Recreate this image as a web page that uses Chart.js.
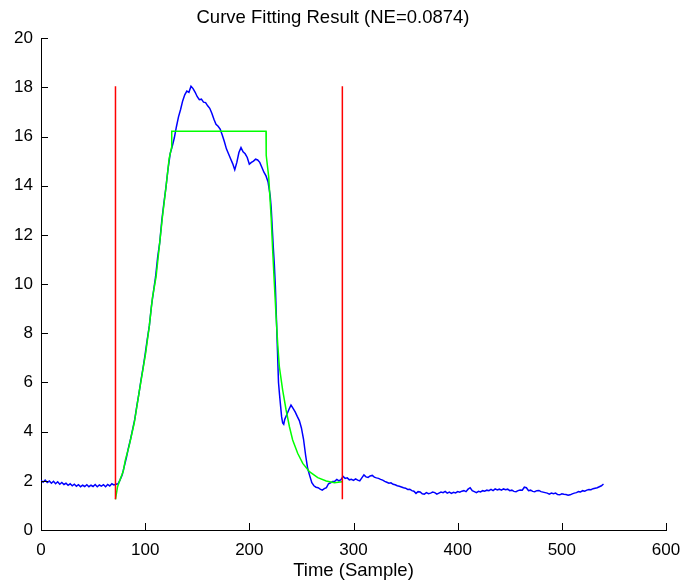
<!DOCTYPE html>
<html>
<head>
<meta charset="utf-8">
<script src="https://cdn.jsdelivr.net/npm/chart.js@4.4.1/dist/chart.umd.min.js"></script>
<style>
  html, body { margin: 0; padding: 0; background: #fff; }
  #wrap { width: 682px; height: 582px; }
</style>
</head>
<body>
<div id="wrap"><canvas id="c" width="682" height="582"></canvas></div>
<script>
// ---- data ----
const chartTitle = 'Curve Fitting Result (NE=0.0874)';
const xAxisTitle = 'Time (Sample)';
const xTickValues = [0, 100, 200, 300, 400, 500, 600];
const yTickValues = [0, 2, 4, 6, 8, 10, 12, 14, 16, 18, 20];

const blueSamples = [
  0,2,4,6,8,10,12,14,16,18,20,22,24,26,28,30,32,34,36,38,40,42,44,46,48,50,52,54,56,58,60,62,64,66,68,70,72,74,
  76,78,80,82,84,86,88,90,92,94,96,98,100,102,104,106,108,110,112,114,116,118,120,122,124,126,128,130,132,134,136,138,
  140,142,144,146,148,150,152,154,156,158,160,162,164,166,168,170,172,174,176,178,180,182,184,186,188,190,192,194,196,198,
  200,202,204,206,208,210,212,214,216,218,220,221,222,223,224,225,226,227,228,229,230,231,232,233,234,236,238,240,242,244,
  246,248,250,252,254,256,258,260,262,264,266,268,270,272,274,276,278,280,282,284,286,288,290,292,294,296,298,300,302,304,
  306,308,310,312,314,316,318,320,322,324,326,328,330,332,334,336,338,340,342,344,346,348,350,352,354,356,358,360,362,364,
  366,368,370,372,374,376,378,380,382,384,386,388,390,392,394,396,398,400,402,404,406,408,410,412,414,416,418,420,422,424,
  426,428,430,432,434,436,438,440,442,444,446,448,450,452,454,456,458,460,462,464,466,468,470,472,474,476,478,480,482,484,
  486,488,490,492,494,496,498,500,502,504,506,508,510,512,514,516,518,520,522,524,526,528,530,532,534,536,538,540
];
const blueValues = [
  2.02,1.94,2.03,1.93,1.99,1.90,1.98,1.88,1.96,1.86,1.93,1.85,1.90,1.82,1.88,1.80,1.86,1.78,1.84,1.76,1.82,1.77,1.84,1.76,1.82,1.77,1.85,1.76,1.83,1.78,1.84,1.76,1.85,1.79,1.88,1.83,1.86,1.88,
  2.05,2.25,2.60,2.95,3.35,3.70,4.10,4.50,5.05,5.55,6.10,6.60,7.15,7.75,8.30,9.10,9.70,10.30,11.10,11.70,12.60,13.30,13.95,14.70,15.30,15.60,15.95,16.40,16.80,17.10,17.45,17.70,
  17.85,17.80,18.05,17.95,17.80,17.62,17.50,17.52,17.40,17.38,17.25,17.15,16.95,16.70,16.50,16.42,16.30,16.06,15.80,15.50,15.30,15.10,14.90,14.65,14.95,15.35,15.55,15.38,15.30,15.15,
  14.88,14.95,15.00,15.08,15.05,14.95,14.75,14.55,14.40,14.15,13.60,13.10,12.30,11.50,10.80,9.90,8.60,7.30,6.00,5.50,5.05,4.60,4.35,4.30,4.50,4.70,4.90,5.08,4.95,4.80,
  4.62,4.45,4.15,3.70,3.05,2.50,2.20,1.92,1.80,1.74,1.72,1.66,1.62,1.68,1.72,1.88,1.92,1.97,1.98,2.06,2.00,2.05,2.18,2.10,2.12,2.04,2.06,2.02,2.08,2.03,
  2.00,2.12,2.24,2.16,2.14,2.20,2.22,2.15,2.12,2.10,2.06,2.03,1.98,1.94,1.90,1.92,1.86,1.84,1.80,1.78,1.75,1.72,1.70,1.65,1.66,1.60,1.58,1.49,1.56,1.55,
  1.47,1.46,1.52,1.48,1.50,1.54,1.52,1.46,1.50,1.54,1.52,1.57,1.50,1.54,1.49,1.53,1.51,1.56,1.54,1.58,1.60,1.56,1.66,1.72,1.60,1.56,1.52,1.57,1.55,1.60,
  1.58,1.62,1.60,1.65,1.60,1.67,1.63,1.66,1.62,1.67,1.64,1.66,1.60,1.62,1.57,1.56,1.60,1.63,1.62,1.74,1.72,1.60,1.62,1.57,1.56,1.60,1.61,1.56,1.54,1.52,
  1.50,1.46,1.50,1.48,1.50,1.44,1.43,1.47,1.45,1.44,1.41,1.43,1.47,1.50,1.52,1.56,1.55,1.60,1.58,1.62,1.65,1.64,1.68,1.70,1.72,1.76,1.80,1.87
];

const fitSamples = [71.5,73.5,76,79,81,84.5,89.5,94,100.5,104,107,110.5,113.5,116.5,120,123,125.3,125.5,216,216.2,218.6,220.9,222.4,224,225.7,227.2,228.8,232,235.3,238.5,241.6,246.4,251.3,257.7,265.7,273.8,281.7,289.1];
const fitValues  = [1.25,1.76,2.05,2.40,2.85,3.40,4.35,5.55,7.20,8.30,9.45,10.30,11.50,12.70,13.95,15.10,15.55,16.22,16.22,15.24,14.36,12.74,11.38,10.03,8.67,7.59,6.64,5.69,4.88,4.20,3.66,3.12,2.71,2.37,2.13,1.99,1.92,1.96];

const markerSamples = [71.5, 289.3];
const markerRange = [1.25, 18.05];

// ---- build datasets ----
const toPts = (xs, ys) => xs.map((x, i) => ({ x: x, y: ys[i] }));
const datasets = [];
markerSamples.forEach(s => {
  datasets.push({
    data: markerRange.map(v => ({ x: s, y: v })),
    borderColor: '#ff0000', borderWidth: 1.5, pointRadius: 0, order: 0
  });
});
datasets.push({ data: toPts(fitSamples, fitValues), borderColor: '#00ff00', borderWidth: 1.5, pointRadius: 0, order: 1 });
datasets.push({ data: toPts(blueSamples, blueValues), borderColor: '#0000ff', borderWidth: 1.5, pointRadius: 0, order: 2 });

const TICK_LEN = 7;
const inwardTicks = {
  id: 'inwardTicks',
  afterDraw(chart) {
    const { ctx, chartArea: a, scales: { x, y } } = chart;
    ctx.save();
    ctx.strokeStyle = '#000';
    ctx.lineWidth = 1;
    ctx.beginPath();
    x.ticks.forEach(t => {
      const px = Math.round(x.getPixelForValue(t.value)) + 0.5;
      ctx.moveTo(px, a.bottom); ctx.lineTo(px, a.bottom - TICK_LEN);
    });
    y.ticks.forEach(t => {
      const py = Math.round(y.getPixelForValue(t.value)) + 0.5;
      ctx.moveTo(a.left, py); ctx.lineTo(a.left + TICK_LEN, py);
    });
    ctx.stroke();
    ctx.restore();
  }
};

const FONT = 'Arial, "Liberation Sans", Helvetica, sans-serif';
new Chart(document.getElementById('c'), {
  type: 'line',
  data: { datasets },
  options: {
    responsive: false,
    devicePixelRatio: 1,
    animation: false,
    elements: { line: { tension: 0 } },
    layout: { padding: { left: 0, right: 16, top: 0, bottom: 0 } },
    plugins: {
      legend: { display: false },
      tooltip: { enabled: false },
      title: {
        display: true, text: chartTitle, color: '#000',
        font: { family: FONT, size: 18.5, weight: 'normal', lineHeight: 1.2 },
        padding: { top: 7, bottom: 9 }
      }
    },
    scales: {
      x: {
        type: 'linear', min: 0, max: 600,
        afterBuildTicks: s => { s.ticks = xTickValues.map(v => ({ value: v })); },
        afterFit: s => { s.height = 52; s.paddingLeft = 0; s.paddingRight = 0; },
        grid: { display: false, drawTicks: false },
        border: { display: true, color: '#000', width: 1 },
        ticks: { color: '#000', padding: 10, maxRotation: 0, autoSkip: false, font: { family: FONT, size: 17 } },
        title: { display: true, text: xAxisTitle, color: '#000', font: { family: FONT, size: 18.5 }, padding: { top: 0, bottom: 0 } }
      },
      y: {
        type: 'linear', min: 0, max: 20,
        afterBuildTicks: s => { s.ticks = yTickValues.map(v => ({ value: v })); },
        afterFit: s => { s.width = 41; s.paddingTop = 0; s.paddingBottom = 0; },
        grid: { display: false, drawTicks: false },
        border: { display: true, color: '#000', width: 1 },
        ticks: { color: '#000', padding: 8, autoSkip: false, font: { family: FONT, size: 17 } }
      }
    }
  },
  plugins: [inwardTicks]
});
</script>
</body>
</html>
